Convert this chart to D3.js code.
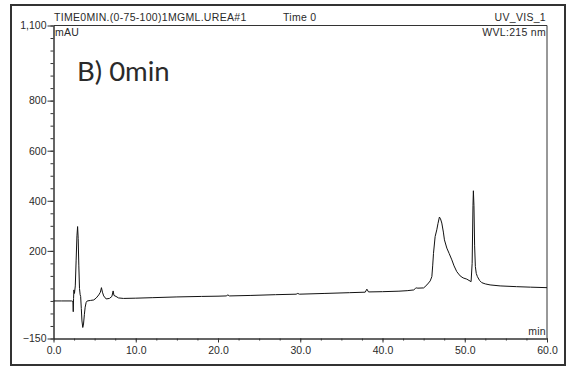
<!DOCTYPE html>
<html>
<head>
<meta charset="utf-8">
<script src="https://cdn.jsdelivr.net/npm/d3@7"></script>
<style>
  html, body { margin: 0; padding: 0; background: #fff; }
  svg { display: block; }
  text { font-family: "Liberation Sans", Arial, sans-serif; fill: #2a2a2a; }
</style>
</head>
<body>
<svg id="chart" width="567" height="367"></svg>
<script>
// Chromatogram trace: retention time (min) and absorbance (mAU)
const timeMin = [
  0, 1.0, 2.2, 2.36, 2.40, 2.44, 2.48, 2.55, 2.65, 2.75, 2.85, 2.93, 3.0, 3.08, 3.16,
  3.24, 3.30, 3.38, 3.46, 3.56, 3.65, 3.75, 3.85, 3.97, 4.1, 4.5, 4.9, 5.2, 5.5,
  5.7, 5.83, 5.95, 6.1, 6.4, 6.8, 7.1, 7.25, 7.35, 7.6, 7.9, 8.5, 10.0, 12.0,
  15.0, 18.0, 20.0, 21.0, 21.2, 21.4, 24.0, 27.0, 29.5, 29.7, 29.9, 33.0, 36.0,
  37.9, 38.1, 38.3, 40.0, 42.0, 43.0, 43.8, 44.0, 44.1, 44.3, 45.0, 45.4, 45.8,
  46.0, 46.1, 46.2, 46.4, 46.6, 46.75, 46.92, 47.05, 47.21, 47.4, 47.53, 47.82,
  48.1, 48.43, 48.7, 49.03, 49.44, 49.8, 50.25, 50.77, 50.9, 51.0, 51.05, 51.12,
  51.2, 51.29, 51.4, 51.54, 51.8, 52.07, 52.5, 53.08, 54.3, 56.3, 58.0, 60.0
];
const absorbance = [
  0, 0, 0, -2, -43, 10, 44, 30, 60, 160, 260, 297, 250, 140, 50,
  25, 18, -30, -80, -106, -92, -55, -25, -6, 0, 2, 4, 12, 24,
  35, 53, 35, 20, 8, 10, 18, 40, 22, 18, 12, 10, 11, 13,
  16, 18, 19, 20, 24, 20, 22, 25, 27, 30, 27, 30, 33,
  35, 47, 36, 37, 39, 41, 44, 50, 52, 51, 52, 64, 80,
  97, 140, 190, 257, 284, 310, 335, 328, 311, 275, 244, 211,
  190, 164, 140, 117, 100, 92, 87, 77, 150, 380, 440, 380,
  220, 137, 110, 97, 82, 73, 68, 64, 60, 57, 55, 53
];

// Axis ticks
const xMajorTicks = [0, 10, 20, 30, 40, 50, 60];
const xMinorTicks = d3.range(0, 60.01, 2.5);
const yMajorTicks = [-150, 200, 400, 600, 800, 1100];
const yMinorTicks = d3.range(-150, 1100.01, 50);

// Header texts
const headerTitle = "TIME0MIN.(0-75-100)1MGML.UREA#1";
const headerTime = "Time 0";
const headerChannel = "UV_VIS_1";
const yUnit = "mAU";
const wavelength = "WVL:215 nm";
const xUnit = "min";
const panelLabel = "B) 0min";

const svg = d3.select("#chart");

const x = d3.scaleLinear().domain([0, 60]).range([53.5, 547]);
const y = d3.scaleLinear().domain([-150, 1100]).range([338.5, 25.5]);

// Outer frame
svg.append("rect")
  .attr("x", 11).attr("y", 5).attr("width", 554).attr("height", 360)
  .attr("fill", "none").attr("stroke", "#333").attr("stroke-width", 2);

// Plot box (top and right edges)
svg.append("path")
  .attr("d", `M${x(0)},${y(1100)}H${x(60)}V${y(-150)}`)
  .attr("fill", "none").attr("stroke", "#333").attr("stroke-width", 1);

// Y axis
const yMinor = svg.append("g").attr("transform", `translate(${x(0)},0)`)
  .call(d3.axisLeft(y).tickValues(yMinorTicks).tickSize(3).tickSizeOuter(0).tickFormat(""));
const yMajor = svg.append("g").attr("transform", `translate(${x(0)},0)`)
  .call(d3.axisLeft(y).tickValues(yMajorTicks).tickSize(6).tickSizeOuter(0).tickPadding(1)
    .tickFormat(d3.format(",")));

// X axis
const xMinor = svg.append("g").attr("transform", `translate(0,${y(-150)})`)
  .call(d3.axisBottom(x).tickValues(xMinorTicks).tickSize(2).tickSizeOuter(0).tickFormat(""));
const xMajor = svg.append("g").attr("transform", `translate(0,${y(-150)})`)
  .call(d3.axisBottom(x).tickValues(xMajorTicks).tickSize(4).tickSizeOuter(0).tickPadding(4)
    .tickFormat(d3.format(".1f")));

[yMinor, yMajor, xMinor, xMajor].forEach(g => {
  g.selectAll("path.domain").attr("stroke", "#333");
  g.selectAll("line").attr("stroke", "#333");
  g.selectAll("text")
    .style("font-family", "'Liberation Sans', Arial, sans-serif")
    .style("font-size", "10.5px")
    .attr("fill", "#2a2a2a");
});

// Header and unit labels
const small = (txt, xp, yp, anchor) => svg.append("text")
  .attr("x", xp).attr("y", yp).attr("text-anchor", anchor || "start")
  .style("font-size", "10.5px").style("letter-spacing", "0.3px")
  .text(txt);

small(headerTitle, 54, 21);
small(headerTime, 283, 21);
small(headerChannel, 546, 21, "end");
small(yUnit, 55, 36);
small(wavelength, 546, 36, "end");
small(xUnit, 546, 335, "end");

// Panel label
svg.append("text")
  .attr("x", 77).attr("y", 81)
  .style("font-family", "Lato, 'Open Sans', sans-serif")
  .style("font-size", "27.5px")
  .attr("fill", "#1a1a1a")
  .text(panelLabel);

// Trace
const points = timeMin.map((t, i) => [t, absorbance[i]]);
svg.append("path")
  .datum(points)
  .attr("fill", "none")
  .attr("stroke", "#111")
  .attr("stroke-width", 1)
  .attr("stroke-linejoin", "round")
  .attr("d", d3.line().x(d => x(d[0])).y(d => y(d[1])));
</script>
</body>
</html>
